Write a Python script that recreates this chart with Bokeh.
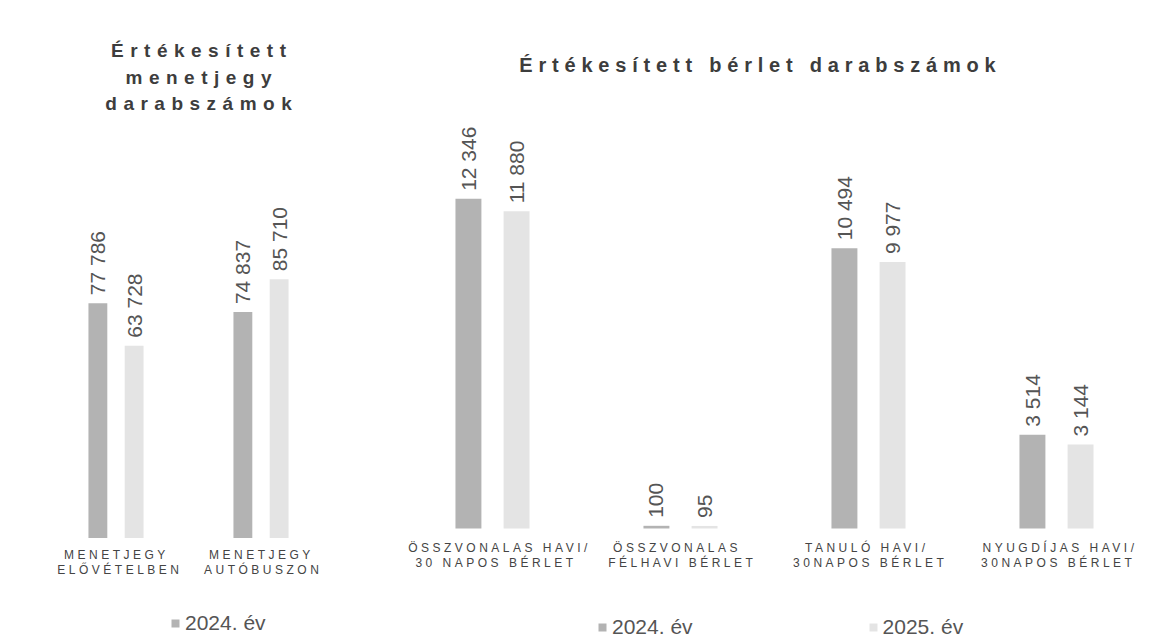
from math import pi
from bokeh.plotting import figure
from bokeh.models import (ColumnDataSource, Legend, LegendItem, Label, Range1d, FactorRange,
                          FixedTicker, InlineStyleSheet)
from bokeh.transform import dodge
from bokeh.layouts import row, column
from bokeh.embed import file_html
from bokeh.resources import INLINE
from bokeh.core.properties import value

# ---------------- data ----------------
left_categories = ["MENETJEGY\nELŐVÉTELBEN", "MENETJEGY\nAUTÓBUSZON"]
left_2024 = [77786, 74837]
left_2025 = [63728, 85710]

right_categories = ["ÖSSZVONALAS HAVI/\n30 NAPOS BÉRLET", "ÖSSZVONALAS\nFÉLHAVI BÉRLET",
                    "TANULÓ HAVI/\n30NAPOS BÉRLET", "NYUGDÍJAS HAVI/\n30NAPOS BÉRLET"]
right_2024 = [12346, 100, 10494, 3514]
right_2025 = [11880, 95, 9977, 3144]

series_names = ["2024. év", "2025. év"]
left_title_lines = ["Értékesített", "menetjegy", "darabszámok"]
right_title_lines = ["Értékesített bérlet darabszámok"]

# ---------------- style ----------------
FONT = "Liberation Sans"
C2024 = "#b3b3b3"
C2025 = "#e4e4e4"
TITLE_COLOR = "#3d3d3d"
VAL_COLOR = "#555555"
CAT_COLOR = "#444444"
CAT_LS = 3.5          # letter spacing of the category labels (px)
TITLE_H, CHART_H, AXIS_H, LEG_H = 115, 423, 52, 49


def fmt(v):
    return f"{v:,}".replace(",", " ")


def spacing_sheet(px):
    return InlineStyleSheet(css=f":host {{ letter-spacing: {px}px; }}")


def base_fig(width, height, borders, **kw):
    p = figure(width=width, height=height, output_backend="svg", toolbar_location=None,
               min_border_left=borders[0], min_border_right=borders[1], min_border_top=0,
               min_border_bottom=0, **kw)
    p.xgrid.visible = False
    p.ygrid.visible = False
    p.outline_line_color = None
    p.background_fill_color = "white"
    p.border_fill_color = "white"
    return p


def title_fig(lines, baselines, cx, width, borders, frame_x, size, ls):
    p = base_fig(width, TITLE_H, borders, x_range=Range1d(*frame_x), y_range=Range1d(0, TITLE_H),
                 x_axis_type=None, y_axis_type=None)
    p.stylesheets = [spacing_sheet(ls)]
    for line, yb in zip(lines, baselines):
        p.add_layout(Label(x=cx, y=TITLE_H - yb, text=line, x_offset=-(len(line) - 1) * ls / 2,
                           text_align="center", text_baseline="alphabetic", text_font=FONT,
                           text_font_size=size, text_font_style="bold", text_color=TITLE_COLOR))
    return p


def chart_fig(cats, v24, v25, yrange, width, borders, bar_w, off):
    src = ColumnDataSource(dict(cat=cats, v24=v24, v25=v25,
                                l24=[fmt(v) for v in v24], l25=[fmt(v) for v in v25]))
    p = base_fig(width, CHART_H, borders, x_range=FactorRange(*cats), y_range=Range1d(*yrange),
                 x_axis_type=None, y_axis_type=None)
    p.vbar(x=dodge("cat", -off, range=p.x_range), top="v24", width=bar_w, source=src,
           fill_color=C2024, line_color=None)
    p.vbar(x=dodge("cat", off, range=p.x_range), top="v25", width=bar_w, source=src,
           fill_color=C2025, line_color=None)
    for xo, col in ((-off, "l24"), (off, "l25")):
        p.text(x=dodge("cat", xo, range=p.x_range), y="v" + col[1:], text=col, source=src,
               angle=pi / 2, text_align="left", text_baseline="middle", y_offset=-8,
               text_font=value(FONT), text_font_size="21px", text_color=VAL_COLOR)
    return p


def axis_fig(cats, width, borders, cat_px, standoff):
    # shift compensating the extra width that letter spacing adds to the right of each line
    nchars = [len(s) - 1 for c in cats for s in c.split("\n")]
    d = (sum(nchars) / len(nchars)) * CAT_LS / 2 / cat_px
    n = len(cats)
    p = base_fig(width, AXIS_H, borders, x_range=Range1d(d, n + d), y_range=Range1d(0, 1),
                 y_axis_type=None)
    p.stylesheets = [spacing_sheet(CAT_LS)]
    ax = p.xaxis[0]
    ax.fixed_location = 1
    ax.ticker = FixedTicker(ticks=[i + 0.5 for i in range(n)])
    ax.major_label_overrides = {i + 0.5: c for i, c in enumerate(cats)}
    ax.axis_line_color = None
    ax.major_tick_line_color = None
    ax.minor_tick_line_color = None
    ax.major_label_standoff = standoff
    ax.major_label_text_font = FONT
    ax.major_label_text_font_size = "12px"
    ax.major_label_text_line_height = 1.1
    ax.major_label_text_color = CAT_COLOR
    return p


def legend_fig(names, width, borders, loc):
    # legend strip: zero-height proxy bars carry the series colours into the legend
    p = base_fig(width, LEG_H, borders, x_range=Range1d(0, 1), y_range=Range1d(0, 1),
                 x_axis_type=None, y_axis_type=None)
    colors = {"2024. év": C2024, "2025. év": C2025}
    items = []
    for nm in names:
        r = p.vbar(x=[0.5], top=[0], bottom=[0], width=0, fill_color=colors[nm], line_color=None)
        items.append(LegendItem(label=nm, renderers=[r]))
    leg = Legend(items=items, orientation="horizontal", location=loc, spacing=175,
                 label_text_font=FONT, label_text_font_size="21px", label_text_color=VAL_COLOR,
                 glyph_width=10, glyph_height=10, label_standoff=5, border_line_color=None,
                 background_fill_alpha=0, margin=0, padding=0)
    p.add_layout(leg)
    return p


# ---- left panel (frame x 43..333, baseline at y=538, 0.003025 px per ticket)
LW, LB = 355, (43, 22)
left_col = column(
    title_fig(left_title_lines, [50, 77, 103], 198, LW, LB, (43, 333), "19px", 6.5),
    chart_fig(left_categories, left_2024, left_2025, (0, 139835), LW, LB, 0.13, 0.125),
    axis_fig(left_categories, LW, LB, 145, 3),
    legend_fig(["2024. év"], LW, LB, (127, 4)),
    spacing=0)

# ---- right panel (frame x 398..1150, baseline at y=528, 0.0267 px per pass)
RW, RB = 795, (43, 0)
right_col = column(
    title_fig(right_title_lines, [64], 757, RW, RB, (398, 1150), "20px", 5.8),
    chart_fig(right_categories, right_2024, right_2025, (-375, 15468), RW, RB, 0.138, 0.128),
    axis_fig(right_categories, RW, RB, 188, -4),
    legend_fig(series_names, RW, RB, (199, 0)),
    spacing=0)

layout = row(left_col, right_col, spacing=0)
open("out.html", "w").write(file_html(layout, INLINE))
